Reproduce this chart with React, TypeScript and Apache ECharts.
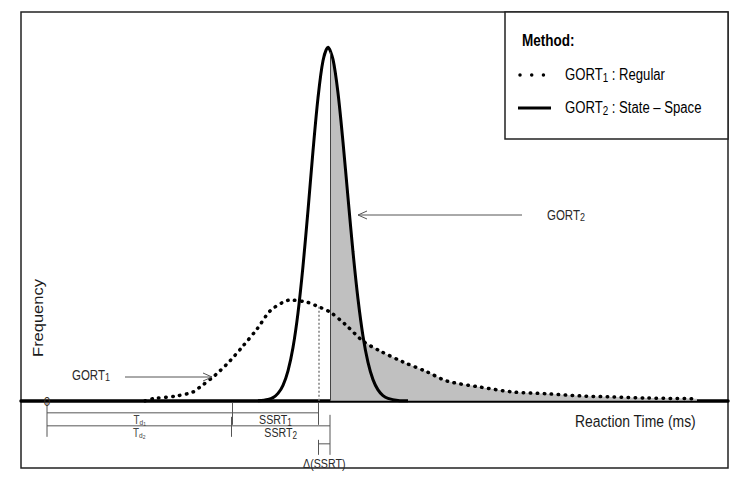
import React, { useEffect, useRef } from "react";
import * as echarts from "echarts";

// Reaction time axis (ms) and relative frequency
const timeRange = [-52, 1362];
const freqRange = [-0.19, 1.1];

// GORT2 : State-Space (solid)
const gort2Times = [422, 442, 452, 462, 472, 482, 492, 502, 512, 522, 532, 542, 552, 562, 572, 582, 592, 602, 612, 622, 632, 642, 652, 662, 672, 682, 702, 722];
const gort2Freq = [0, 0.004, 0.009, 0.021, 0.044, 0.085, 0.151, 0.249, 0.381, 0.539, 0.707, 0.857, 0.962, 1.0, 0.966, 0.871, 0.732, 0.575, 0.421, 0.288, 0.183, 0.109, 0.06, 0.031, 0.015, 0.007, 0.001, 0];

// GORT1 : Regular (dotted)
const gort1Times = [196, 212, 260, 292, 306, 330, 346, 366, 392, 420, 446, 472, 486, 520, 540, 566, 596, 632, 666, 712, 760, 800, 866, 932, 1000, 1066, 1132, 1200, 1300];
const gort1Freq = [0, 0.006, 0.014, 0.025, 0.039, 0.065, 0.085, 0.113, 0.155, 0.203, 0.254, 0.279, 0.285, 0.279, 0.268, 0.251, 0.217, 0.169, 0.141, 0.11, 0.082, 0.056, 0.039, 0.025, 0.02, 0.014, 0.011, 0.008, 0.006];

// delays T_d1, T_d2 and SSRT ends (ms from origin)
const tdTimes = [371, 369];
const ssrtEnds = [543, 566];

const FONT = "'Liberation Sans', Arial, sans-serif";
const SQ = 0.82;

function interp(xs: number[], ys: number[], t: number) {
  if (t < xs[0] || t > xs[xs.length - 1]) return 0;
  for (let i = 1; i < xs.length; i++) {
    if (t <= xs[i]) {
      const f = (t - xs[i - 1]) / (xs[i] - xs[i - 1]);
      return ys[i - 1] + f * (ys[i] - ys[i - 1]);
    }
  }
  return 0;
}

function tok(size: number, extra: any = {}) {
  return { fontSize: size, fontFamily: FONT, ...extra };
}

function text(x: number, y: number, t: string, size: number, opts: any = {}) {
  const { align = "left", fill = "#222", weight = "normal", rich, scaleX = SQ } = opts;
  return {
    type: "text",
    x,
    y,
    scaleX,
    z: 50,
    silent: true,
    style: {
      text: t,
      fontSize: size,
      fontFamily: FONT,
      fontWeight: weight,
      fill,
      align,
      verticalAlign: "middle",
      rich,
    },
  };
}

function line(x1: number, y1: number, x2: number, y2: number, stroke = "#555", lineWidth = 1, extra: any = {}) {
  return {
    type: "line",
    z: 40,
    silent: true,
    shape: { x1, y1, x2, y2 },
    style: { stroke, lineWidth, ...extra },
  };
}

export default function App() {
  const ref = useRef<HTMLDivElement>(null);

  useEffect(() => {
    const chart = echarts.init(ref.current!, null, { renderer: "svg" });

    const gort1 = gort1Times.map((t, i) => [t, gort1Freq[i]]);
    const gort2 = gort2Times.map((t, i) => [t, gort2Freq[i]]);
    const shadeStart = ssrtEnds[1];
    const lastT = gort1Times[gort1Times.length - 1];
    const ts = Array.from(new Set([shadeStart, ...gort1Times, ...gort2Times]))
      .filter((t) => t >= shadeStart && t <= lastT)
      .sort((a, b) => a - b);
    const shade = ts.map((t) => [
      t,
      Math.max(interp(gort1Times, gort1Freq, t), interp(gort2Times, gort2Freq, t)),
    ]);

    chart.setOption({
      animation: false,
      grid: {
        show: true,
        left: 21,
        top: 12,
        right: 18,
        bottom: 18,
        borderColor: "#222",
        borderWidth: 1.5,
        backgroundColor: "transparent",
      },
      xAxis: {
        type: "value",
        min: timeRange[0],
        max: timeRange[1],
        axisLine: { onZero: true, lineStyle: { color: "#000", width: 3.5 } },
        axisTick: { show: false },
        axisLabel: { show: false },
        splitLine: { show: false },
      },
      yAxis: {
        type: "value",
        min: freqRange[0],
        max: freqRange[1],
        show: false,
        splitLine: { show: false },
      },
      series: [
        {
          type: "line",
          name: "shade",
          data: shade,
          symbol: "none",
          smooth: 0.2,
          lineStyle: { width: 0 },
          areaStyle: { color: "#c0c0c0", opacity: 1 },
          z: 1,
          silent: true,
          markLine: {
            silent: true,
            symbol: ["none", "none"],
            label: { show: false },
            data: [
              [
                { coord: [ssrtEnds[0], 0], lineStyle: { color: "#808080", width: 1.5, type: [2, 2] } },
                { coord: [ssrtEnds[0], interp(gort1Times, gort1Freq, ssrtEnds[0])] },
              ],
              [
                { coord: [ssrtEnds[1], 0], lineStyle: { color: "#444", width: 1, type: "solid" } },
                { coord: [ssrtEnds[1], interp(gort2Times, gort2Freq, ssrtEnds[1])] },
              ],
            ],
          },
        },
        {
          type: "line",
          name: "GORT1 : Regular",
          data: gort1,
          symbol: "none",
          smooth: 0.3,
          lineStyle: { color: "#000", width: 3.5, type: [0.5, 6.5], cap: "round" },
          z: 3,
        },
        {
          type: "line",
          name: "GORT2 : State – Space",
          data: gort2,
          symbol: "none",
          smooth: 0.3,
          lineStyle: { color: "#000", width: 3 },
          z: 4,
        },
      ],
    });

    const px = (t: number) => (chart.convertToPixel({ xAxisIndex: 0, yAxisIndex: 0 }, [t, 0]) as number[])[0];
    const y0 = (chart.convertToPixel({ xAxisIndex: 0, yAxisIndex: 0 }, [0, 0]) as number[])[1];
    const x0 = px(0);
    const xTd1 = px(tdTimes[0]);
    const xTd2 = px(tdTimes[1]);
    const xS1 = px(ssrtEnds[0]);
    const xS2 = px(ssrtEnds[1]);
    const ac = "#555";

    const subRich = (main: number, sub: number) => ({
      m: tok(main, { lineHeight: main + 2 }),
      s: tok(sub, { lineHeight: sub - 3, verticalAlign: "bottom" }),
    });
    const tdRich = {
      m: tok(12, { lineHeight: 13 }),
      s: tok(8, { lineHeight: 6, verticalAlign: "bottom" }),
      t: tok(6, { lineHeight: 1, verticalAlign: "bottom" }),
    };

    const elements: any[] = [
      // y axis title
      {
        type: "text",
        x: 38,
        y: 318,
        rotation: Math.PI / 2,
        scaleY: 0.85,
        z: 50,
        style: { text: "Frequency", fontSize: 16.5, fontFamily: FONT, fill: "#1a1a1a", align: "center", verticalAlign: "middle" },
      },
      // x axis title
      text(575, y0 + 20, "Reaction Time (ms)", 17, { fill: "#1a1a1a" }),
      // origin marker
      text(x0, y0 + 1, "0", 13, { align: "center", fill: "#3a2e22", scaleX: 0.9 }),
      // below-axis brackets
      line(x0, y0 + 2, x0, y0 + 36, ac),
      line(x0, y0 + 12, xS1, y0 + 12, ac),
      line(xTd1, y0 + 2, xTd1, y0 + 24, ac),
      line(xS1, y0 + 2, xS1, y0 + 24, ac),
      line(x0, y0 + 25, xS2, y0 + 25, ac),
      line(xTd2, y0 + 16, xTd2, y0 + 36, ac),
      line(xS2, y0 + 14, xS2, y0 + 54, ac),
      line(xS1, y0 + 39, xS1, y0 + 54, ac),
      line(xS1, y0 + 43, xS2, y0 + 43, ac),
      text((x0 + xTd1) / 2, y0 + 19, "{m|T}{s|d}{t|1}", 12, { align: "center", fill: "#444", rich: tdRich }),
      text((x0 + xTd2) / 2, y0 + 32, "{m|T}{s|d}{t|2}", 12, { align: "center", fill: "#444", rich: tdRich }),
      text((xTd1 + xS1) / 2, y0 + 19, "{m|SSRT}{s|1}", 13, { align: "center", fill: "#2a2a2a", rich: subRich(13, 10) }),
      text((xTd2 + xS2) / 2, y0 + 32, "{m|SSRT}{s|2}", 13, { align: "center", fill: "#2a2a2a", rich: subRich(13, 10) }),
      text((xS1 + xS2) / 2, y0 + 63, "Δ(SSRT)", 13, { align: "center", fill: "#2a2a2a" }),
      // GORT1 annotation
      text(72, 375, "{m|GORT}{s|1}", 14, { fill: "#2a2a2a", rich: subRich(14, 11) }),
      line(125, 377, 212, 377, ac),
      { type: "polyline", z: 40, shape: { points: [[203, 373], [212, 377], [203, 381]] }, style: { stroke: ac, lineWidth: 1, fill: "none" } },
      // GORT2 annotation
      text(547, 215, "{m|GORT}{s|2}", 14, { fill: "#2a2a2a", rich: subRich(14, 11) }),
      line(358, 215, 522, 215, ac),
      { type: "polyline", z: 40, shape: { points: [[367, 211], [358, 215], [367, 219]] }, style: { stroke: ac, lineWidth: 1, fill: "none" } },
      // legend box
      { type: "rect", z: 30, shape: { x: 505, y: 12, width: 223, height: 127 }, style: { fill: "#fff", stroke: "#222", lineWidth: 1.5 } },
      text(522, 40, "Method:", 16.5, { weight: "bold", fill: "#000" }),
      line(520, 75, 545, 75, "#000", 3.5, { lineDash: [0.01, 11.7], lineCap: "round" }),
      text(565, 75, "{m|GORT}{s|1}{m| : Regular}", 16, { fill: "#000", rich: subRich(16, 12) }),
      line(518, 108, 551, 108, "#000", 3),
      text(565, 108, "{m|GORT}{s|2}{m| : State – Space}", 16, { fill: "#000", rich: subRich(16, 12) }),
    ];

    chart.setOption({ graphic: elements });

    return () => chart.dispose();
  }, []);

  return <div ref={ref} style={{ position: "absolute", left: 0, top: 0, width: 746, height: 486 }} />;
}
